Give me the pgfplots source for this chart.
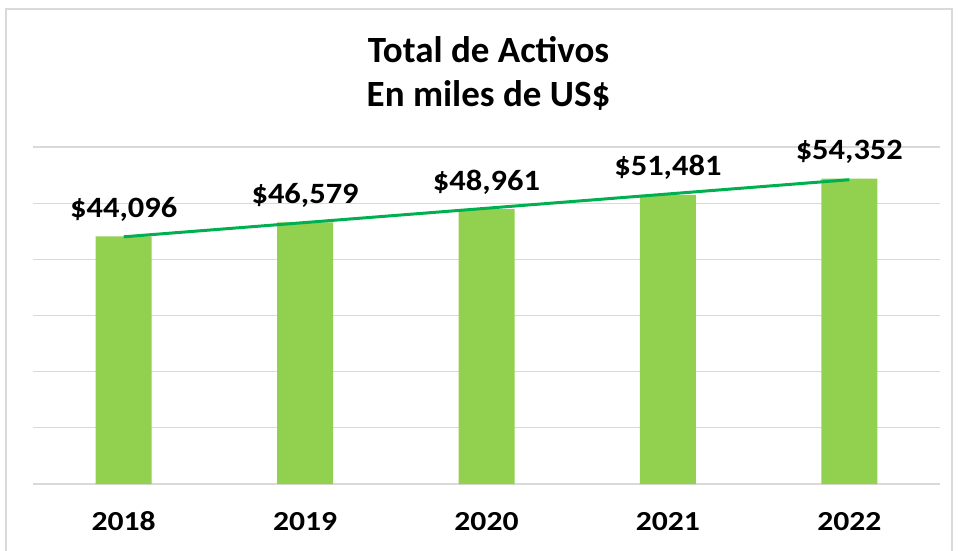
\documentclass[border=0pt]{standalone}
\usepackage{pgfplots}
\pgfplotsset{compat=1.18}
\usepackage{fontspec}
\setmainfont{Carlito}
\newfontfamily\lblfont[FakeStretch=1.1]{Carlito}
\newfontfamily\tickfont[FakeStretch=1.15]{Carlito}
\definecolor{bargreen}{HTML}{92D050}
\definecolor{trendgreen}{HTML}{00B050}
\definecolor{gridgray}{HTML}{D9D9D9}
\begin{document}
\begin{tikzpicture}
\useasboundingbox (0pt,0pt) rectangle (958pt,550pt);
\draw[gridgray, line width=1.5pt] (6pt,-10pt) rectangle (952pt,541pt);
\node[anchor=base, font=\fontsize{37}{44}\selectfont\bfseries] at (488.5pt,487pt) {Total de Activos};
\node[anchor=base, font=\fontsize{37}{44}\selectfont\bfseries] at (488.5pt,443pt) {En miles de US\$};
\begin{axis}[
  at={(33pt,66pt)}, anchor=south west,
  scale only axis, width=907pt, height=337pt,
  xmin=-0.5, xmax=4.5, ymin=0, ymax=60000,
  xtick={0,1,2,3,4}, xticklabels={2018,2019,2020,2021,2022},
  ytick={0,10000,20000,30000,40000,50000,60000}, yticklabels={},
  scaled y ticks=false,
  ymajorgrids, grid style={gridgray, line width=1.2pt},
  axis line style={draw=none}, major tick length=0pt,
  xticklabel style={font=\tickfont\fontsize{27.5}{30}\selectfont\bfseries, anchor=base, yshift=-46pt},
  /pgf/number format/assume math mode=true,
  clip=false,
]
\addplot[ybar, bar width=56pt, fill=bargreen, draw=none,
  nodes near coords={\$\pgfmathprintnumber[fixed,precision=0,1000 sep={,}]{\pgfplotspointmeta}},
  every node near coord/.append style={font=\lblfont\fontsize{29.5}{32}\selectfont\bfseries, anchor=base, yshift=19pt, text=black}]
  coordinates {(0,44096) (1,46579) (2,48961) (3,51481) (4,54352)};
\addplot[trendgreen, line width=3pt] coordinates {(0,44011) (4,54177)};
\end{axis}
\end{tikzpicture}
\end{document}
